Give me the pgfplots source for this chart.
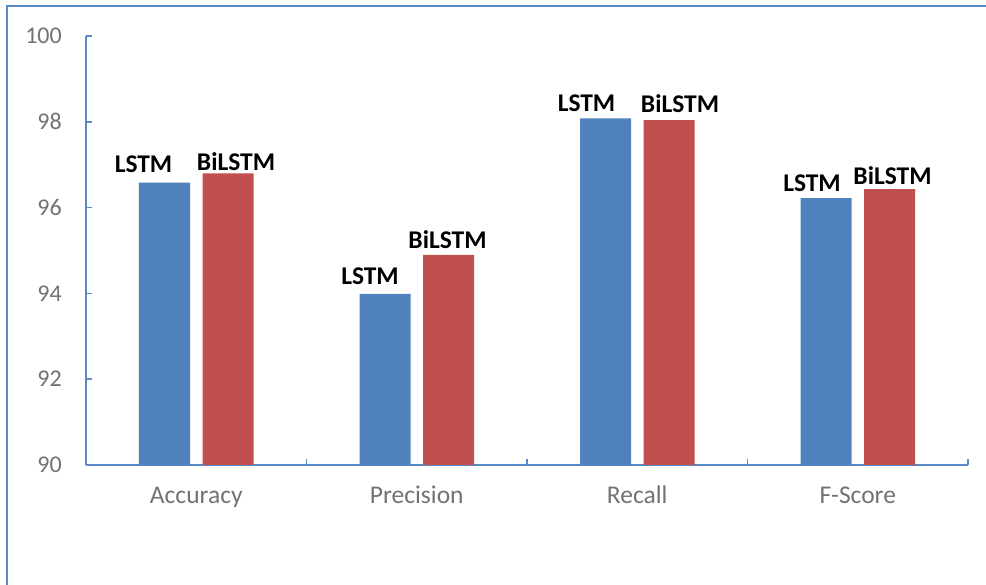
\documentclass[border=0pt]{standalone}
\usepackage{pgfplots}
\pgfplotsset{compat=1.18}
\usepackage{pgfplotstable}
\usepackage{fontspec}
\setmainfont{Carlito}

\definecolor{barblue}{HTML}{4F81BD}
\definecolor{barred}{HTML}{C0504D}
\definecolor{axisblue}{HTML}{5A8AC6}
\definecolor{labelgray}{HTML}{727272}

% x = category index, y = score, dx/dy = label offsets (pt)
\pgfplotstableread{
x y dx dy
0 96.58 -21 10
1 93.99 -15 9
2 98.08 -19 6
3 96.22 -14 6
}\lstm
\pgfplotstableread{
x y dx dy
0 96.80 8 2
1 94.90 -1 6
2 98.04 11 7
3 96.43 3 4
}\bilstm

\begin{document}
\begin{tikzpicture}[x=1pt,y=1pt]
\useasboundingbox (0,0) rectangle (986,585);
% frame around the chart area
\draw[axisblue, line width=2pt] (7,0) -- (7,579) -- (986,579);
\begin{axis}[
  at={(86pt,120pt)}, anchor=south west,
  scale only axis, width=882pt, height=429pt,
  ybar=12.5pt, bar width=51pt,
  xmin=-0.5, xmax=3.5, ymin=90, ymax=100,
  ytick={90,92,...,100},
  xtick={-0.5,0.5,1.5,2.5,3.5},
  x tick label as interval,
  xticklabels={Accuracy,Precision,Recall,F-Score},
  axis lines*=left,
  axis line style={axisblue, line width=1.5pt},
  tick align=inside,
  major tick length=6pt,
  tick style={axisblue, line width=1.5pt},
  /pgf/number format/assume math mode=true,
  tick label style={font=\fontsize{24}{28}\selectfont, text=labelgray, inner sep=0pt},
  yticklabel style={anchor=east, xshift=-24pt},
  xticklabel style={font=\fontsize{25.5}{30}\selectfont, anchor=base, yshift=-39pt},
  enlarge x limits=false,
  clip=false,
  visualization depends on={\thisrow{dx} \as \dx},
  visualization depends on={\thisrow{dy} \as \dy},
  every node near coord/.append style={
    font=\fontsize{25.5}{30}\selectfont\bfseries, text=black,
    anchor=south, inner sep=0pt, xshift=\dx pt, yshift=\dy pt},
]
\addplot[fill=barblue, draw=none, nodes near coords={LSTM}] table[x=x, y=y] {\lstm};
\addplot[fill=barred, draw=none, nodes near coords={BiLSTM}] table[x=x, y=y] {\bilstm};
\end{axis}
\end{tikzpicture}
\end{document}
